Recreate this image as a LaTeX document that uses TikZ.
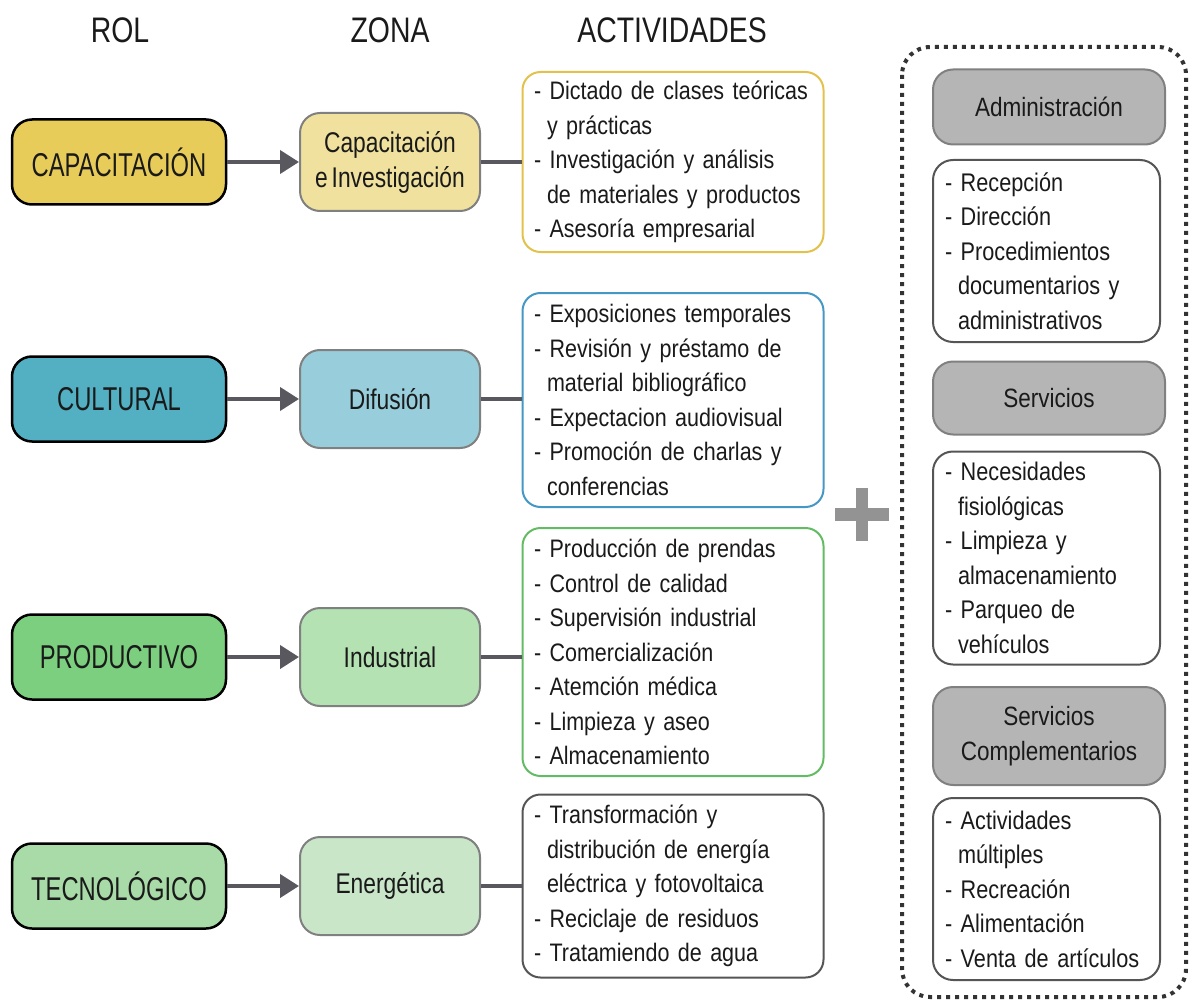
\documentclass[tikz,border=0pt]{standalone}
\usepackage{fontspec}
\setmainfont{Liberation Sans}[FakeStretch=0.85, WordSpace=0.6]
\newfontfamily\angosta{Liberation Sans}[FakeStretch=0.72, WordSpace=0.6]
\newfontfamily\media{Liberation Sans}[FakeStretch=0.8, WordSpace=0.6]
\usetikzlibrary{arrows.meta}
\definecolor{capRol}{HTML}{E8CC5A}
\definecolor{capZona}{HTML}{F0E29E}
\definecolor{capLine}{HTML}{E2C24C}
\definecolor{culRol}{HTML}{52B0C2}
\definecolor{culZona}{HTML}{98CEDB}
\definecolor{culLine}{HTML}{4597C4}
\definecolor{proRol}{HTML}{7CCF7E}
\definecolor{proZona}{HTML}{B4E2B3}
\definecolor{proLine}{HTML}{63BB64}
\definecolor{tecRol}{HTML}{A9DBA8}
\definecolor{tecZona}{HTML}{C9E6C9}
\definecolor{tecLine}{HTML}{555555}
\definecolor{linkGray}{HTML}{58585E}
\definecolor{boxGray}{HTML}{B5B5B5}
\definecolor{txtDark}{HTML}{1A1A1A}
\newcommand{\sig}{\hspace*{13pt}}

\begin{document}
\begin{tikzpicture}[x=1pt, y=-1pt, text=txtDark,
  titulo/.style={font=\media\fontsize{35.5}{38}\selectfont},
  rolbox/.style={draw=black, line width=2.5pt, rounded corners=20pt, fill=#1,
    minimum width=214pt, minimum height=85pt, font=\angosta\fontsize{33}{36}\selectfont},
  zonabox/.style={draw=gray, line width=2pt, rounded corners=20pt, fill=#1,
    minimum width=180pt, minimum height=98pt, align=center,
    font=\media\fontsize{28.5}{35}\selectfont},
  actbox/.style={draw=#1, line width=2pt, rounded corners=18pt, fill=white,
    minimum width=301pt, text width=278pt, inner xsep=11.5pt, align=left,
    font=\fontsize{25.3}{34.5}\selectfont},
  grisbox/.style={draw=gray, line width=2pt, rounded corners=20pt, fill=boxGray,
    minimum width=232pt, align=center, font=\fontsize{26.5}{34.5}\selectfont},
  listbox/.style={draw=tecLine, line width=2pt, rounded corners=20pt, fill=white,
    minimum width=227pt, text width=203pt, inner xsep=12pt, align=left,
    font=\fontsize{25.5}{34.5}\selectfont},
  flecha/.style={draw=linkGray, line width=4pt, -{Triangle[length=19pt,width=23pt]}},
  enlace/.style={draw=linkGray, line width=4pt}]

  \useasboundingbox (0,0) rectangle (1190,1000);

  % Titles
  \node[titulo] (tRol) at (120,30) {ROL};
  \node[titulo] (tZona) at (390,30) {ZONA};
  \node[titulo] (tAct) at (672,30) {ACTIVIDADES};

  % Roles
  \node[rolbox=capRol] (cap) at (119,162) {CAPACITACIÓN};
  \node[rolbox=culRol] (cul) at (119,399) {CULTURAL};
  \node[rolbox=proRol] (pro) at (119,657) {PRODUCTIVO};
  \node[rolbox=tecRol] (tec) at (119,886) {TECNOLÓGICO};

  % Zones
  \node[zonabox=capZona] (zcap) at (390,162) {Capacitación\\e Investigación};
  \node[zonabox=culZona] (zcul) at (390,399) {Difusión};
  \node[zonabox=proZona] (zpro) at (390,657) {Industrial};
  \node[zonabox=tecZona] (ztec) at (390,886) {Energética};

  % Activities
  \node[actbox=capLine, minimum height=180pt] (acap) at (673,162)
    {- Dictado de clases teóricas\\\sig y prácticas\\- Investigación y análisis\\\sig de materiales y productos\\- Asesoría empresarial};
  \node[actbox=culLine, minimum height=214pt] (acul) at (673,400)
    {- Exposiciones temporales\\- Revisión y préstamo de\\\sig material bibliográfico\\- Expectacion audiovisual\\- Promoción de charlas y\\\sig conferencias};
  \node[actbox=proLine, minimum height=248pt] (apro) at (673,652)
    {- Producción de prendas\\- Control de calidad\\- Supervisión industrial\\- Comercialización\\- Atemción médica\\- Limpieza y aseo\\- Almacenamiento};
  \node[actbox=tecLine, minimum height=183pt] (atec) at (673,886)
    {- Transformación y\\\sig distribución de energía\\\sig eléctrica y fotovoltaica\\- Reciclaje de residuos\\- Tratamiendo de agua};

  % Connectors
  \foreach \r in {cap,cul,pro,tec}{
    \draw[flecha] (\r.east) -- (z\r.west);
    \draw[enlace] (z\r.east) -- (z\r.east -| a\r.west);
  }

  % Plus sign
  \fill[gray!85] (835,508) rectangle (889,521);
  \fill[gray!85] (856,488) rectangle (868,541);

  % Dotted frame
  \draw[black!80, line width=4pt, dash pattern=on 4pt off 5pt, rounded corners=28pt]
    (902,47) rectangle (1186,997);

  % Right column
  \node[grisbox, minimum height=75pt] (adm) at (1049,107) {Administración};
  \node[listbox, minimum height=182pt] (ladm) at (1046.5,251)
    {- Recepción\\- Dirección\\- Procedimientos\\\sig documentarios y\\\sig administrativos};
  \node[grisbox, minimum height=73pt] (ser) at (1049,398) {Servicios};
  \node[listbox, minimum height=213pt] (lser) at (1046.5,558)
    {- Necesidades\\\sig fisiológicas\\- Limpieza y\\\sig almacenamiento\\- Parqueo de\\\sig vehículos};
  \node[grisbox, minimum height=98pt] (com) at (1049,736) {Servicios\\Complementarios};
  \node[listbox, minimum height=182pt] (lcom) at (1046.5,889)
    {- Actividades\\\sig múltiples\\- Recreación\\- Alimentación\\- Venta de artículos};
\end{tikzpicture}
\end{document}
